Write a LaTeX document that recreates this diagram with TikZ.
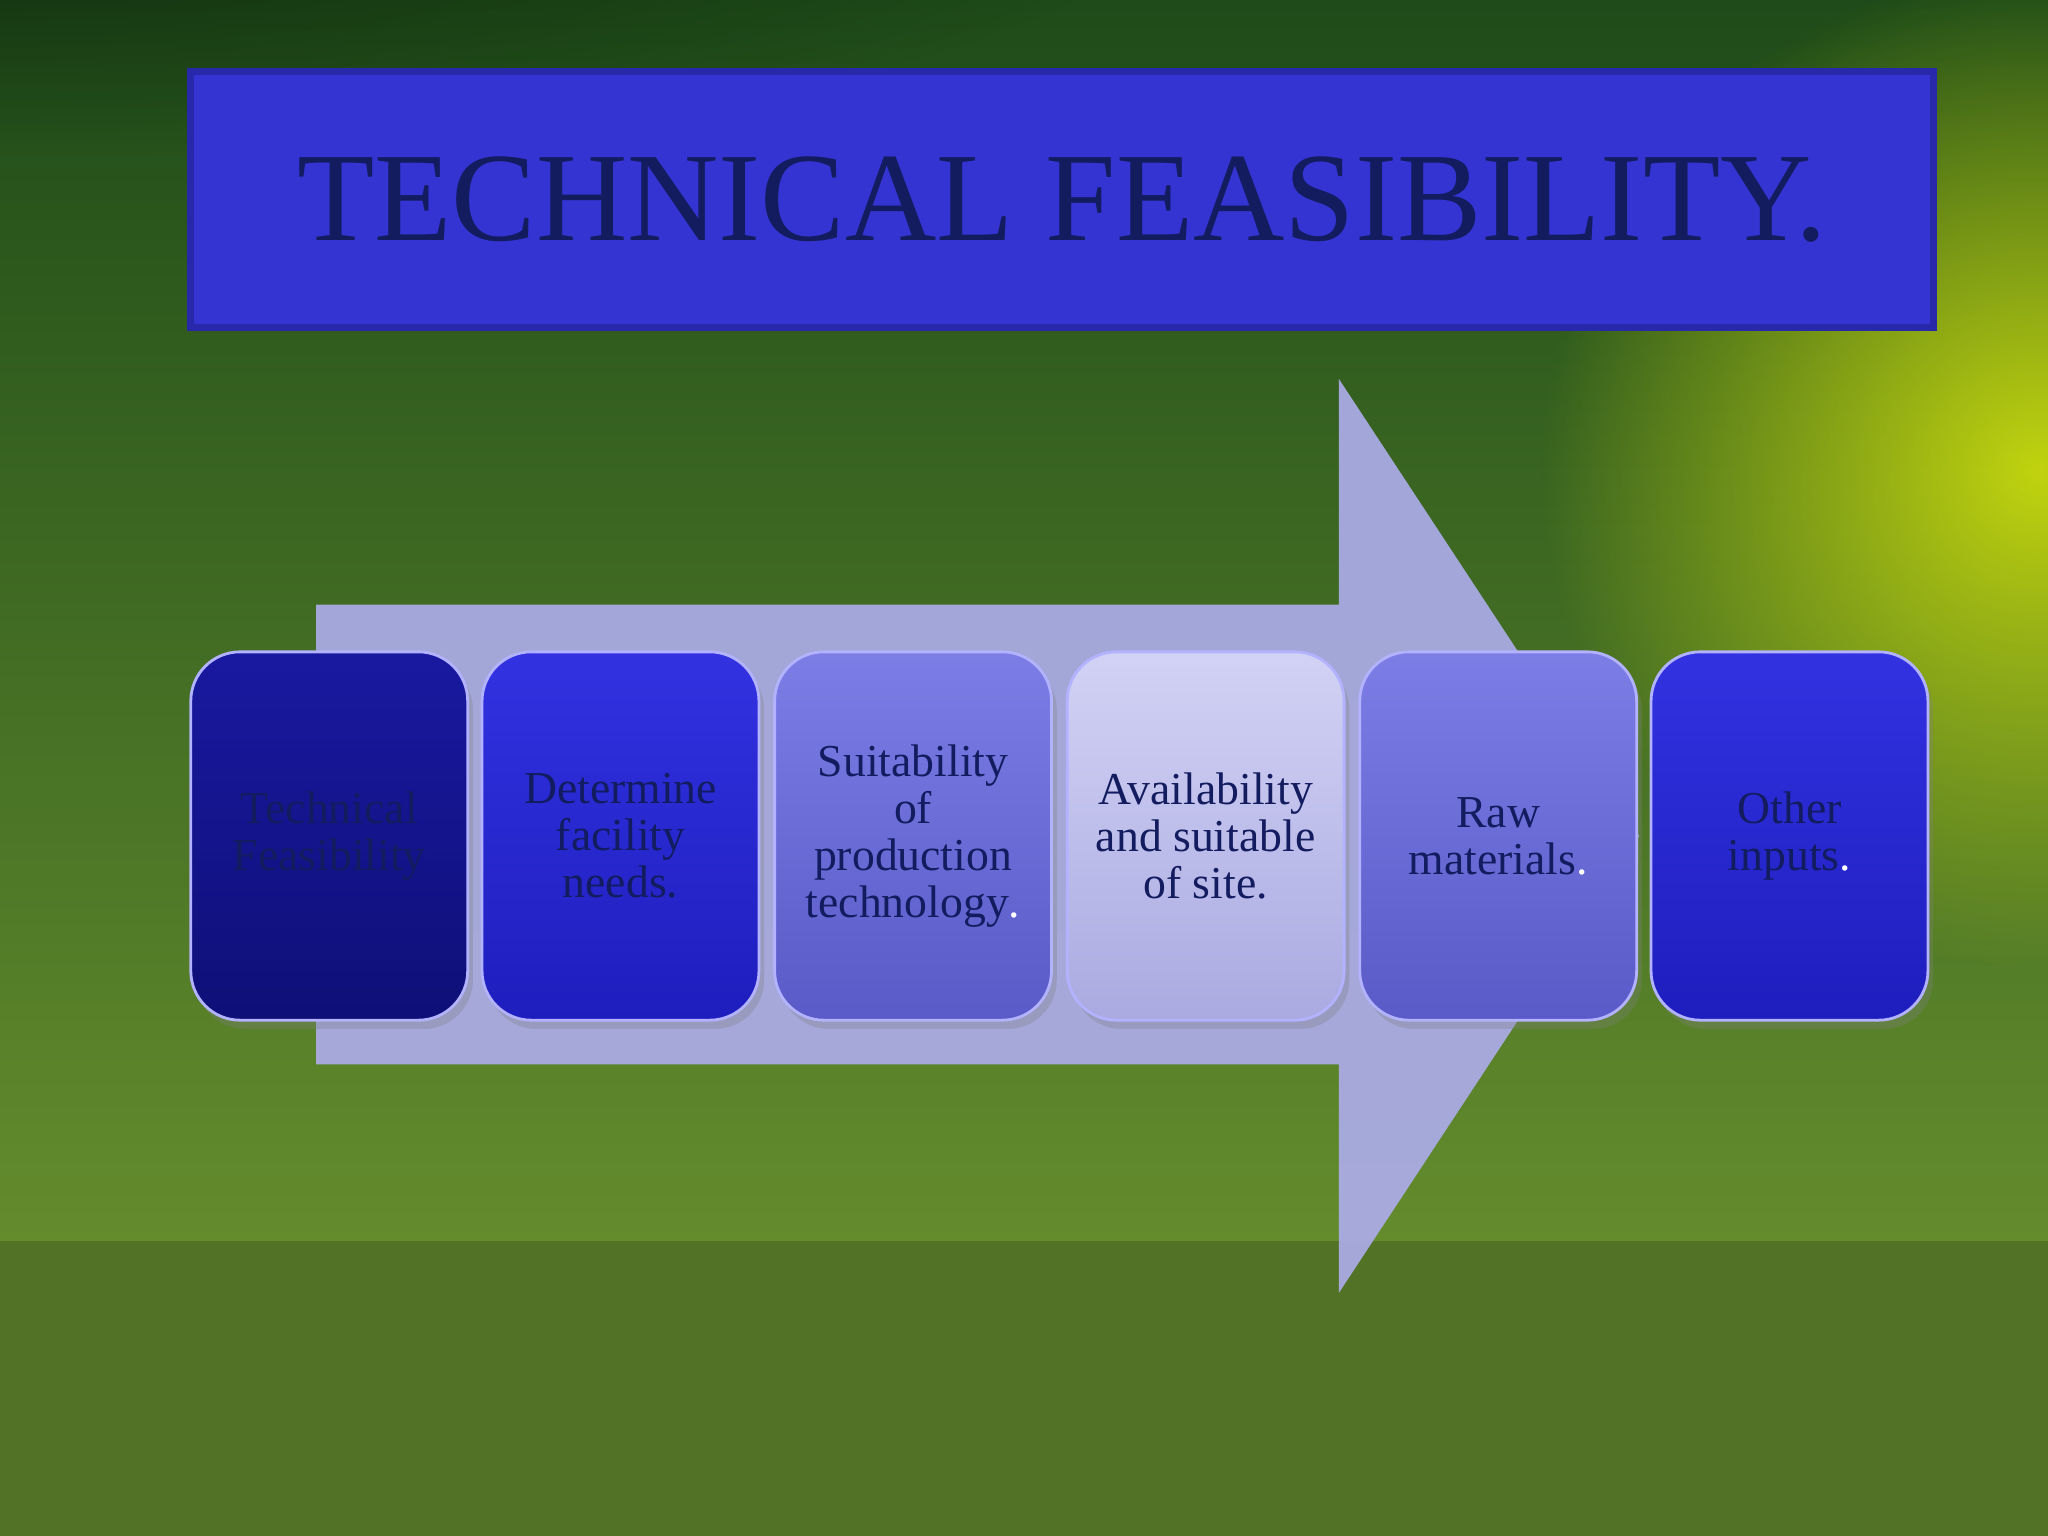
\documentclass[tikz,border=0pt]{standalone}
\usepackage{fontspec}
\setmainfont{Liberation Serif}
\usetikzlibrary{shadows,fadings}
\tikzfading[name=softglow, inner color=transparent!0, outer color=transparent!100]
\definecolor{navy}{RGB}{18,28,95}
\definecolor{bgA}{RGB}{30,75,25}
\definecolor{bgB}{RGB}{100,140,45}
\definecolor{titlefill}{RGB}{52,52,210}
\definecolor{titleedge}{RGB}{40,40,170}
\definecolor{arrowfill}{RGB}{172,172,232}
\definecolor{cA}{RGB}{25,25,160}\definecolor{cAd}{RGB}{15,15,120}
\definecolor{cB}{RGB}{50,50,225}\definecolor{cBd}{RGB}{30,30,190}
\definecolor{cC}{RGB}{125,125,230}\definecolor{cCd}{RGB}{90,90,200}
\definecolor{cD}{RGB}{210,210,245}\definecolor{cDd}{RGB}{170,170,225}
\tikzset{
 stepbox/.style={rounded corners=14pt, draw=white!40!blue!50, line width=0.8pt,
   minimum width=212*0.013061cm, minimum height=282*0.013061cm, anchor=north west,
   align=center, text=navy, font=\fontsize{13}{13.4}\selectfont, inner sep=2pt,
   drop shadow={opacity=0.3, shadow xshift=1.5pt, shadow yshift=-2.5pt}}
}
\begin{document}
\begin{tikzpicture}[x=0.013061cm,y=-0.013061cm]
\useasboundingbox (0,0) rectangle (1568,1176);
% background
\shade[top color=bgA, bottom color=bgB] (0,0) rectangle (1568,950);
\fill[bgB!82!black] (0,950) rectangle (1568,1176);
\begin{scope}
\clip (0,0) rectangle (1568,1176);
\fill[yellow!85!green, path fading=softglow, opacity=0.85] (1560,360) circle (380);
\fill[black, path fading=softglow, opacity=0.4] (0,-80) ellipse (900 and 200);
\end{scope}
% title
\node[draw=titleedge, line width=2pt, fill=titlefill, minimum width=1335*0.013061cm,
  minimum height=196*0.013061cm, anchor=north west, text=navy,
  font=\fontsize{36}{40}\selectfont] (title) at (143,52) {TECHNICAL FEASIBILITY.};
% arrow
\fill[arrowfill, opacity=0.92] (242,463) -- (1025,463) -- (1025,290) -- (1255,640)
  -- (1025,990) -- (1025,815) -- (242,815) -- cycle;
% boxes
\node[stepbox, top color=cA, bottom color=cAd] (b1) at (145,498) {Technical\\Feasibility};
\node[stepbox, top color=cB, bottom color=cBd] (b2) at (368,498) {Determine\\facility\\needs.};
\node[stepbox, top color=cC, bottom color=cCd] (b3) at (592,498) {Suitability\\of\\production\\technology\textcolor{white}{.}};
\node[stepbox, top color=cD, bottom color=cDd] (b4) at (816,498) {Availability\\and suitable\\of site.};
\node[stepbox, top color=cC, bottom color=cCd] (b5) at (1040,498) {Raw\\materials\textcolor{white}{.}};
\node[stepbox, top color=cB, bottom color=cBd] (b6) at (1263,498) {Other\\inputs\textcolor{white}{.}};
\end{tikzpicture}
\end{document}
